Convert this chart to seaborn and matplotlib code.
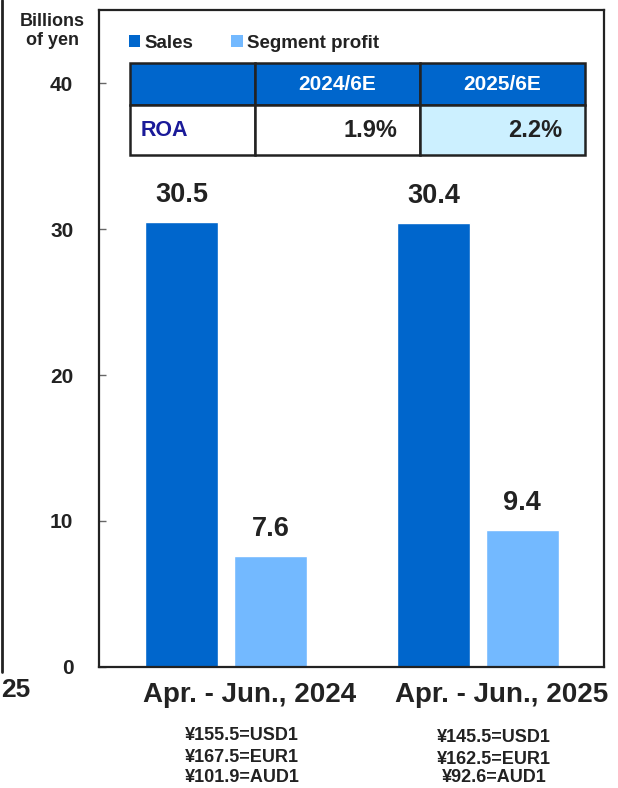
import matplotlib
matplotlib.use("Agg")
import matplotlib.pyplot as plt
import matplotlib.transforms as mtransforms
from matplotlib.patches import Rectangle, Patch
from matplotlib.lines import Line2D
import seaborn as sns
import pandas as pd

# ---- data ----
periods = ["Apr. - Jun., 2024", "Apr. - Jun., 2025"]
series = ["Sales", "Segment profit"]
sales = [30.5, 30.4]
profit = [7.6, 9.4]
fx_rates = [["¥155.5=USD1", "¥167.5=EUR1", "¥101.9=AUD1"],
            ["¥145.5=USD1", "¥162.5=EUR1", "¥92.6=AUD1"]]
roa_years = ["2024/6E", "2025/6E"]
roa_values = ["1.9%", "2.2%"]
yticks = [0, 10, 20, 30, 40]

# ---- style ----
sns.set_theme(style="white")
plt.rcParams['font.family'] = ['Liberation Sans', 'DejaVu Sans']
TXT = "#222222"
C_SALES = "#0066CC"
C_PROFIT = "#73B9FF"

W, H = 618, 788
fig = plt.figure(figsize=(W / 100, H / 100), dpi=100)
ax = fig.add_axes([99 / W, (H - 667) / H, 505 / W, 657 / H])

df = pd.DataFrame({
    "period": periods * 2,
    "value": sales + profit,
    "series": [series[0]] * 2 + [series[1]] * 2,
})
sns.barplot(data=df, x="period", y="value", hue="series", hue_order=series,
            palette=[C_SALES, C_PROFIT], width=0.704, gap=0.17,
            saturation=1, legend=False, ax=ax)

ax.set_xlim(-0.504, 1.5)
ax.set_ylim(0, 45)
ax.set_xlabel("")
ax.set_ylabel("")

for cont in ax.containers:
    ax.bar_label(cont, fmt="%.1f", padding=10, fontsize=19.5,
                 fontweight="bold", color=TXT)

# spines
for s in ax.spines.values():
    s.set_visible(True)
    s.set_color(TXT)
    s.set_linewidth(1.6)

# y ticks
ax.set_yticks(yticks)
ax.set_yticklabels([str(v) for v in yticks], fontsize=15, fontweight="bold",
                   color=TXT)
ax.tick_params(axis="y", direction="in", length=5, width=1, color="#666666",
               pad=18.5, left=True)

# x ticks
ax.set_xticks([0, 1])
ax.set_xticklabels(periods, fontsize=20, fontweight="bold", color=TXT)
ax.tick_params(axis="x", length=0, pad=10.5)
off = mtransforms.ScaledTranslation(24 / 100, 0, fig.dpi_scale_trans)
for lab in ax.get_xticklabels():
    lab.set_transform(lab.get_transform() + off)

# exchange rates
fx_offsets = [[-69, -90.5, -110], [-71, -92, -111]]
for i, lines in enumerate(fx_rates):
    for j, line in enumerate(lines):
        ax.annotate(line, xy=(i, 0), xycoords=("data", "axes fraction"),
                    xytext=(16, fx_offsets[i][j]), textcoords="offset pixels",
                    ha="center", va="center", fontsize=13,
                    fontweight="bold", color=TXT, annotation_clip=False)

# legend
handles = [Patch(facecolor=C_SALES, edgecolor="none"),
           Patch(facecolor=C_PROFIT, edgecolor="none")]
leg = ax.legend(handles, series, loc="center left",
                bbox_to_anchor=((129 - 99) / 505, (667 - 43) / 657),
                ncol=2, frameon=False, handlelength=0.6, handleheight=0.6,
                handletextpad=0.25, columnspacing=2.0, borderaxespad=0,
                borderpad=0, prop={"size": 13.5, "weight": "bold"})
for t in leg.get_texts():
    t.set_color(TXT)

# ROA table (axes fraction coords)
def fxp(x):
    return (x - 99) / 505

def fyp(y):
    return (667 - y) / 657

cols = [130, 255, 420, 585]
rows = [63, 105, 155]
fills = [[C_SALES, C_SALES, C_SALES], ["white", "white", "#CCF0FF"]]
for r in range(2):
    for c in range(3):
        x0, x1 = fxp(cols[c]), fxp(cols[c + 1])
        y0, y1 = fyp(rows[r + 1]), fyp(rows[r])
        ax.add_patch(Rectangle((x0, y0), x1 - x0, y1 - y0,
                               transform=ax.transAxes, facecolor=fills[r][c],
                               edgecolor=TXT, linewidth=1.8, zorder=5,
                               clip_on=False))
ymid_h = fyp((rows[0] + rows[1]) / 2)
ymid_r = fyp((rows[1] + rows[2]) / 2)
for c, yr in enumerate(roa_years):
    xm = fxp((cols[c + 1] + cols[c + 2]) / 2)
    ax.text(xm, ymid_h, yr, transform=ax.transAxes, ha="center", va="center",
            fontsize=15, fontweight="bold", color="white", zorder=6)
ax.text(fxp(141), ymid_r, "ROA", transform=ax.transAxes, ha="left",
        va="center", fontsize=15.5, fontweight="bold", color="#1A1A99",
        zorder=6)
for c, rv in enumerate(roa_values):
    ax.text(fxp(cols[c + 2] - 23), ymid_r, rv, transform=ax.transAxes,
            ha="right", va="center", fontsize=17, fontweight="bold",
            color=TXT, zorder=6)

# y unit label
fig.text(52 / W, 1 - 31 / H, "Billions\nof yen", ha="center", va="center",
         fontsize=13, fontweight="bold", color=TXT, linespacing=1.15)

# fragments of neighbouring chart at left edge
fig.add_artist(Line2D([2 / W, 2 / W], [1, (H - 672) / H],
                      transform=fig.transFigure, color=TXT, linewidth=2))
fig.text(1 / W, 1 - 690 / H, "25", ha="left", va="center", fontsize=19,
         fontweight="bold", color=TXT)

fig.savefig("out.png", dpi=100)
